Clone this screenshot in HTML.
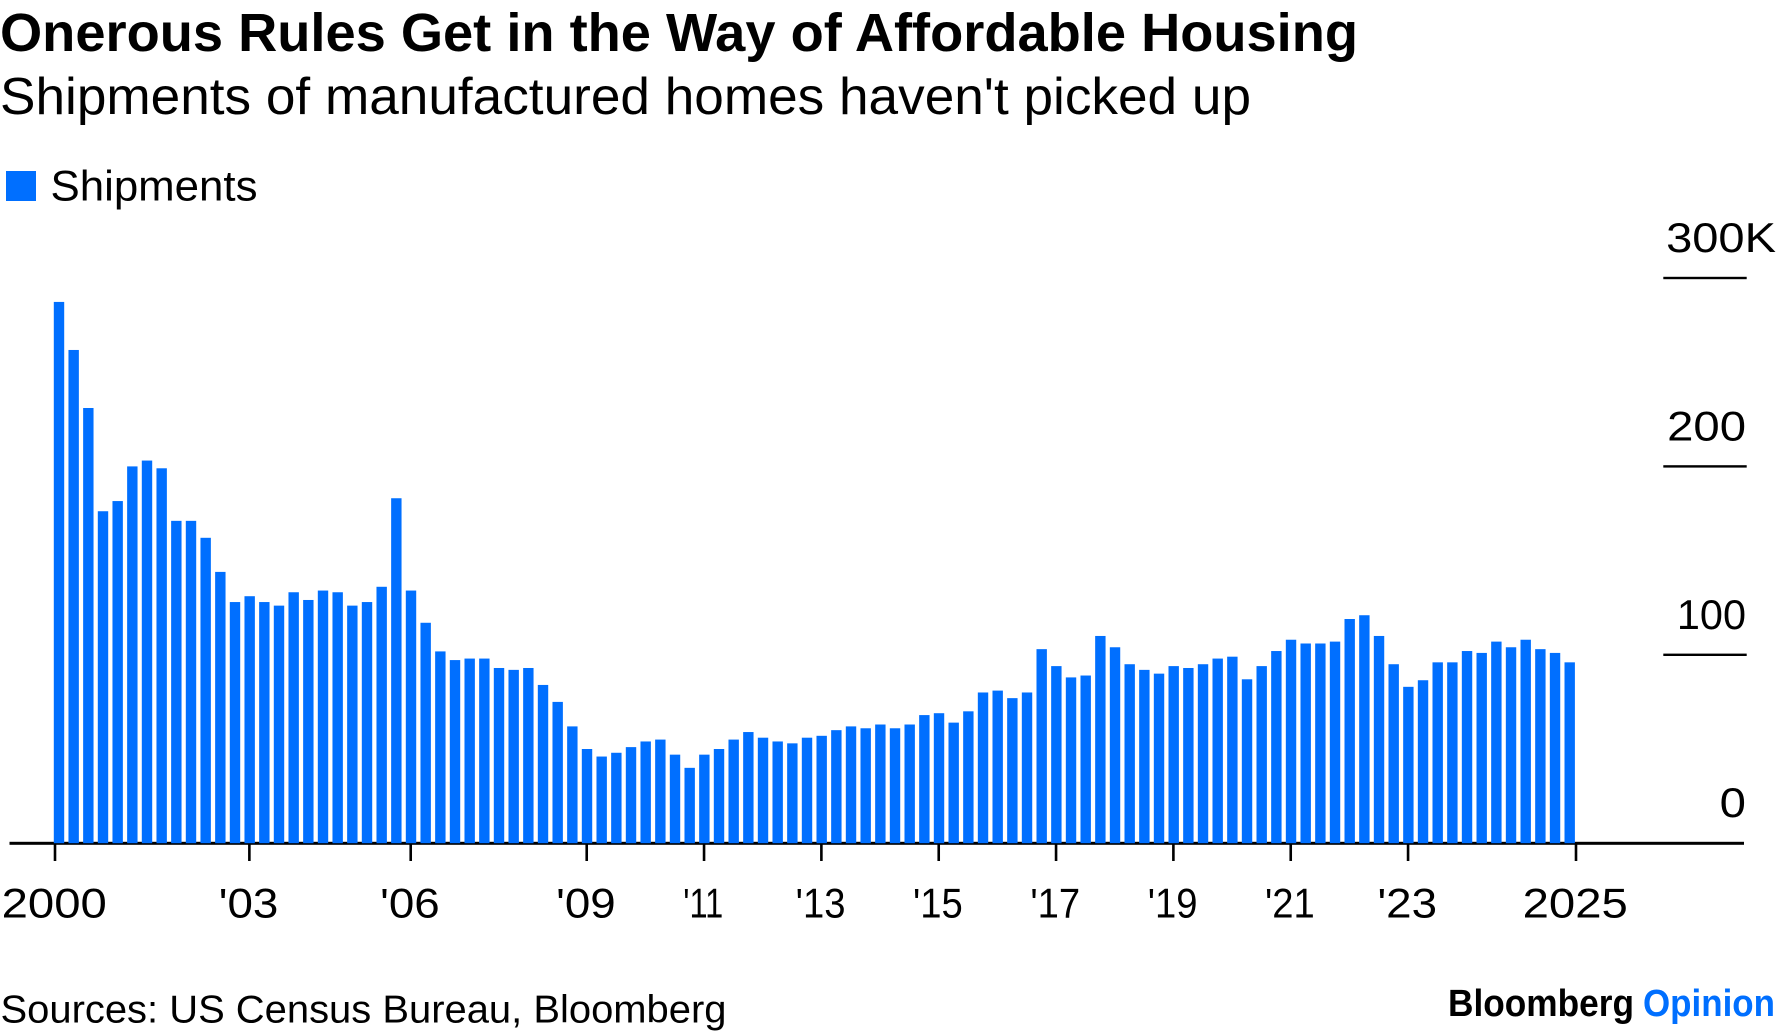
<!DOCTYPE html>
<html lang="en">
<head>
<meta charset="utf-8">
<title>Onerous Rules Get in the Way of Affordable Housing</title>
<style>
html,body{margin:0;padding:0;background:#fff;width:1776px;height:1035px;overflow:hidden}
svg{display:block;font-family:"Liberation Sans",sans-serif;fill:#000}
</style>
</head>
<body>
<svg id="chart" xmlns="http://www.w3.org/2000/svg" width="1776" height="1035" viewBox="0 0 1776 1035">
  <text x="0" y="51" font-size="54" font-weight="700" textLength="1358" lengthAdjust="spacingAndGlyphs">Onerous Rules Get in the Way of Affordable Housing</text>
  <text x="0" y="114" font-size="52" textLength="1251" lengthAdjust="spacingAndGlyphs">Shipments of manufactured homes haven't picked up</text>
  <rect x="6" y="171" width="30" height="30" fill="#006fff"></rect>
  <text x="50.5" y="200.5" font-size="43" textLength="207" lengthAdjust="spacingAndGlyphs">Shipments</text>
  <g id="y-axis"></g>
  <rect x="9.5" y="841.8" width="1734.5" height="3" fill="#000"></rect>
  <g id="x-axis"></g>
  <g id="bars"></g>
  <text x="0.5" y="1022.5" font-size="39" textLength="726" lengthAdjust="spacingAndGlyphs">Sources: US Census Bureau, Bloomberg</text>
  <text x="1448" y="1016" font-size="38" font-weight="700" textLength="186" lengthAdjust="spacingAndGlyphs">Bloomberg</text>
  <text x="1643" y="1016" font-size="38" font-weight="700" fill="#006fff" style="fill:#006fff" textLength="132" lengthAdjust="spacingAndGlyphs">Opinion</text>
</svg>
<script>
// Shipments of manufactured homes, thousands (annualised), quarterly from 2000
const shipments = [
  287.3, 261.8, 231, 176.2, 181.6, 200, 203.1, 199, 171.1, 171.1, 162.1, 144, 128,
  131.1, 128, 126.1, 133.2, 129.1, 134.1, 133.2, 126.1, 128, 136.1, 183.1, 134.1,
  117, 101.8, 97.2, 98, 98, 93, 92, 93, 84, 75, 62, 50, 46, 48, 51, 54, 55, 47, 40,
  47, 50, 55, 59, 56, 54, 53, 56, 57, 60, 62, 61, 63, 61, 63, 68, 69, 64, 70, 80, 81,
  77, 80, 103, 94, 88, 89, 110, 104, 95, 92, 90, 94, 93, 95, 98, 99, 87, 94, 102, 108,
  106, 106, 107, 119, 121, 110, 95, 83, 86.5, 96, 96, 102, 101, 107, 104, 108, 103, 101, 96
];
const xTickLabels = ["2000", "'03", "'06", "'09", "'11", "'13", "'15", "'17", "'19", "'21", "'23", "2025"];
const xTickBars = [0, 13, 24, 36, 44, 52, 60, 68, 76, 84, 92, 103];
const yTickValues = [0, 100, 200, 300];
const yTickLabels = ["0", "100", "200", "300K"];

const SVG_NS = "http://www.w3.org/2000/svg";
const BAR_BLUE = "#006fff";
const PLOT_LEFT = 53.8, BAR_PITCH = 14.667, BAR_WIDTH = 10.4;
const Y_ZERO = 843.2, PX_PER_UNIT = 1.884;

function xBar(i) { return PLOT_LEFT + i * BAR_PITCH; }
function yVal(v) { return Y_ZERO - v * PX_PER_UNIT; }
function xTick(pos, i) {
  if (pos === 0) return xBar(i) + 1.2;
  if (pos === xTickBars.length - 1) return xBar(i) + BAR_WIDTH + 1.1;
  return xBar(i) + 4.9;
}
function glyphWidth(text) {
  let w = 0;
  for (const c of text) {
    if (c === "'") w += 7;
    else if (c === "1") w += 16.5;
    else if (c === "K") w += 31;
    else w += 26.3;
  }
  return w;
}
function make(tag, attrs, parent) {
  const el = document.createElementNS(SVG_NS, tag);
  for (const k in attrs) el.setAttribute(k, attrs[k]);
  parent.appendChild(el);
  return el;
}

const barsGroup = document.getElementById("bars");
shipments.forEach(function (v, i) {
  const el = make("rect", { x: xBar(i), y: yVal(v), width: BAR_WIDTH, height: Y_ZERO - yVal(v), fill: BAR_BLUE }, barsGroup);
  
  
});

const xGroup = document.getElementById("x-axis");
xTickLabels.forEach(function (label, p) {
  const tx = xTick(p, xTickBars[p]);
  const tick = make("rect", { x: tx - 1.3, y: 844, width: 2.6, height: 17, fill: "#000" }, xGroup);
  
  
  const t = make("text", { x: tx - 0.8, y: 917.5, "font-size": 42, "text-anchor": "middle", textLength: glyphWidth(label), lengthAdjust: "spacingAndGlyphs" }, xGroup);
  t.textContent = label;
  
  
});

const yGroup = document.getElementById("y-axis");
yTickValues.forEach(function (v, p) {
  const y = yVal(v);
  if (v !== 0) {
    const line = make("rect", { x: 1663.3, y: y - 1.2, width: 83.4, height: 2.4, fill: "#000" }, yGroup);
    
    
  }
  const label = yTickLabels[p];
  const w = glyphWidth(label);
  const endX = label.indexOf("K") >= 0 ? 1746 + 30 : 1746;
  const t = make("text", { x: endX - w, y: y - 26, "font-size": 42, textLength: w, lengthAdjust: "spacingAndGlyphs" }, yGroup);
  t.textContent = label;
  
  
});
</script>
</body>
</html>
